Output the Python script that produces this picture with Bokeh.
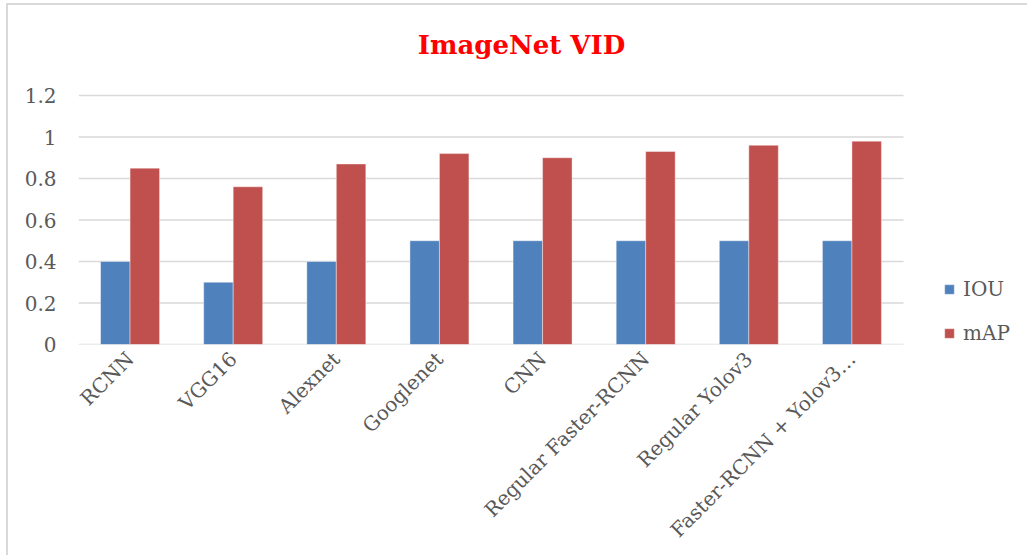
import math
from bokeh.plotting import figure
from bokeh.models import (ColumnDataSource, Range1d, FixedTicker, Label,
                          CustomJSTickFormatter, Legend, LegendItem)
from bokeh.transform import dodge
from bokeh.embed import file_html
from bokeh.resources import INLINE

title_text = "ImageNet VID"
categories = ["RCNN", "VGG16", "Alexnet", "Googlenet", "CNN",
              "Regular Faster-RCNN", "Regular Yolov3", "Faster-RCNN + Yolov3\u2026"]
iou = [0.4, 0.3, 0.4, 0.5, 0.5, 0.5, 0.5, 0.5]
map_vals = [0.85, 0.76, 0.87, 0.92, 0.90, 0.93, 0.96, 0.98]
y_ticks = [0, 0.2, 0.4, 0.6, 0.8, 1.0, 1.2]

FONT = "DejaVu Serif"
TXT = "#595959"

n = len(categories)
x_pos = [i + 0.5 for i in range(n)]
src = ColumnDataSource(dict(x=x_pos, cat=categories, iou=iou, mAP=map_vals))
grid_src = ColumnDataSource(dict(y=y_ticks, x0=[0] * len(y_ticks), x1=[n] * len(y_ticks)))

# plot frame extends right (legend room) and up (title room)
x_end = n * 951 / 825
y_end = max(y_ticks) * 339 / 249

p = figure(width=1021, height=552, output_backend="svg", toolbar_location=None,
           x_range=Range1d(0, x_end), y_range=Range1d(0, y_end),
           min_border_left=70, min_border_right=0, min_border_top=0, min_border_bottom=213)
p.styles = {"margin-left": "6px", "margin-top": "3px",
            "border-left": "2px solid #d9d9d9", "border-top": "2px solid #d9d9d9"}

# horizontal gridlines spanning the category area only
p.segment(x0="x0", x1="x1", y0="y", y1="y", source=grid_src,
          line_color="#d9d9d9", line_width=1.5)

bw = 0.286
r1 = p.vbar(x=dodge("x", -bw / 2), top="iou", width=bw, source=src,
            fill_color="#4f81bd", line_color="white", line_alpha=0.4, line_width=1)
r2 = p.vbar(x=dodge("x", bw / 2), top="mAP", width=bw, source=src,
            fill_color="#c0504d", line_color="white", line_alpha=0.4, line_width=1)

p.outline_line_color = None
p.xgrid.grid_line_color = None
p.ygrid.grid_line_color = None

p.yaxis.ticker = FixedTicker(ticks=y_ticks)
p.yaxis.formatter = CustomJSTickFormatter(code="return String(Math.round(tick*10)/10);")
p.xaxis.ticker = FixedTicker(ticks=x_pos)
p.xaxis.major_label_overrides = {x: c for x, c in zip(x_pos, categories)}
for ax in (p.xaxis[0], p.yaxis[0]):
    ax.axis_line_color = None
    ax.major_tick_line_color = None
    ax.minor_tick_line_color = None
    ax.major_tick_out = 0
    ax.major_tick_in = 0
    ax.major_label_text_font = FONT
    ax.major_label_text_color = TXT
p.yaxis.major_label_text_font_size = "20px"
p.yaxis.major_label_standoff = 22
p.xaxis.major_label_text_font_size = "20px"
p.xaxis.major_label_orientation = math.pi / 4
p.xaxis.major_label_standoff = 11

title = Label(x=443, y=300, x_units="screen", y_units="screen", text=title_text,
              text_font=FONT, text_font_style="bold", text_font_size="26px",
              text_color="#ff0000", text_align="center", text_baseline="middle")
p.add_layout(title)

legend = Legend(items=[LegendItem(label="IOU", renderers=[r1]),
                       LegendItem(label="mAP", renderers=[r2])],
                location=(865, -1), padding=0, margin=0, spacing=20,
                glyph_width=12, glyph_height=12, label_standoff=8,
                label_text_font=FONT, label_text_font_size="20px",
                label_text_color=TXT, border_line_color=None,
                background_fill_alpha=0)
p.add_layout(legend, "center")

open("out.html", "w").write(file_html(p, INLINE))
